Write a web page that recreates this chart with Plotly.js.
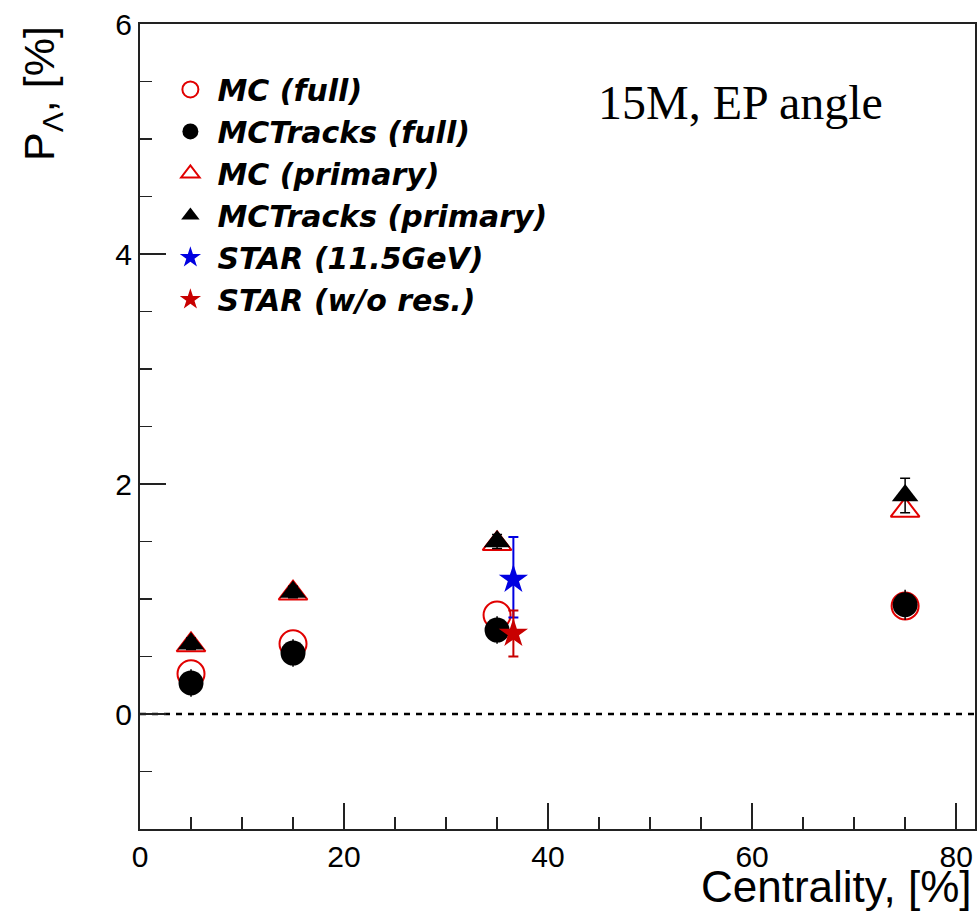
<!DOCTYPE html>
<html>
<head>
<meta charset="utf-8">
<script src="https://cdn.plot.ly/plotly-3.0.1.min.js"></script>
<style>
  html, body { margin: 0; padding: 0; background: #fff; }
  #chart { width: 977px; height: 916px; }
</style>
</head>
<body>
<div id="chart"></div>
<script>
// ---- data ----
const centrality = [5, 15, 35, 75];
const mcFull = [0.35, 0.61, 0.86, 0.94];
const mcTracksFull = [0.27, 0.53, 0.73, 0.95];
const mcTracksFullErr = [0.12, 0.12, 0.12, 0.13];
const mcPrimary = [0.60, 1.05, 1.48, 1.77];
const mcTracksPrimary = [0.61, 1.06, 1.50, 1.90];
const mcTracksPrimaryErr = [0.05, 0.05, 0.06, 0.15];

const starX = [36.6];
const star115 = [1.17];
const star115ErrPlus = [0.37];
const star115ErrMinus = [0.33];
const starNoRes = [0.70];
const starNoResErr = [0.20];

const seriesNames = ["MC (full)", "MCTracks (full)", "MC (primary)", "MCTracks (primary)", "STAR (11.5GeV)", "STAR (w/o res.)"];

const xTicks = [0, 20, 40, 60, 80];
const yTicks = [0, 2, 4, 6];
const xRange = [0, 81.85];
const yRange = [-1, 6];

const RED = "rgb(225,0,0)";
const DARKRED = "rgb(200,0,0)";
const BLUE = "rgb(0,0,225)";

const traces = [
  {
    x: centrality, y: mcFull, name: seriesNames[0], legendgroup: "g1", mode: "markers", type: "scatter",
    marker: { symbol: "circle-open", size: 27, color: RED, line: { width: 2, color: RED } }
  },
  {
    x: centrality, y: mcTracksFull, name: seriesNames[1], legendgroup: "g2", mode: "markers", type: "scatter",
    marker: { symbol: "circle", size: 25, color: "black" },
    error_y: { type: "data", array: mcTracksFullErr, color: "black", thickness: 1.5, width: 0 }
  },
  {
    x: centrality, y: mcPrimary, name: seriesNames[2], legendgroup: "g3", mode: "markers", type: "scatter",
    marker: { symbol: "triangle-up-open", size: 25, color: RED, line: { width: 2, color: RED } }
  },
  {
    x: centrality, y: mcTracksPrimary, name: seriesNames[3], legendgroup: "g4", mode: "markers", type: "scatter",
    marker: { symbol: "triangle-up", size: 23, color: "black" },
    error_y: { type: "data", array: mcTracksPrimaryErr, color: "black", thickness: 1.5, width: 5 }
  },
  {
    x: starX, y: star115, name: seriesNames[4], legendgroup: "g5", mode: "markers", type: "scatter",
    marker: { symbol: "star", size: 22, color: BLUE },
    error_y: { type: "data", symmetric: false, array: star115ErrPlus, arrayminus: star115ErrMinus, color: BLUE, thickness: 2, width: 5 }
  },
  {
    x: starX, y: starNoRes, name: seriesNames[5], legendgroup: "g6", mode: "markers", type: "scatter",
    marker: { symbol: "star", size: 22, color: DARKRED },
    error_y: { type: "data", array: starNoResErr, color: DARKRED, thickness: 2, width: 5 }
  }
];

const axisFont = { family: "Liberation Sans, Arial, sans-serif", size: 30, color: "black" };

const layout = {
  width: 977,
  height: 916,
  margin: { l: 140, r: 2, t: 24, b: 87, pad: 0 },
  paper_bgcolor: "white",
  plot_bgcolor: "white",
  showlegend: true,
  legend: {
    x: 0.028, y: 0.951, xanchor: "left", yanchor: "top",
    bgcolor: "rgba(0,0,0,0)",
    borderwidth: 0,
    itemsizing: "trace",
    itemwidth: 44,
    traceorder: "grouped",
    tracegroupgap: 0,
    font: { family: "DejaVu Sans, Liberation Sans, sans-serif", size: 30, weight: "bold", style: "italic", color: "black" }
  },
  xaxis: {
    range: xRange,
    tickvals: xTicks,
    ticktext: xTicks.map(String),
    ticks: "inside", ticklen: 26, tickwidth: 1.5, tickcolor: "#222",
    minor: { dtick: 5, tick0: 0, ticks: "inside", ticklen: 12, tickwidth: 1.5, tickcolor: "#222", showgrid: false },
    showline: true, linewidth: 2, linecolor: "#222", mirror: true,
    showgrid: false, zeroline: false,
    tickfont: axisFont
  },
  yaxis: {
    range: yRange,
    tickvals: yTicks,
    ticktext: yTicks.map(String),
    ticks: "inside", ticklen: 26, tickwidth: 1.5, tickcolor: "#222",
    minor: { dtick: 0.5, tick0: 0, ticks: "inside", ticklen: 12, tickwidth: 1.5, tickcolor: "#222", showgrid: false },
    showline: true, linewidth: 2, linecolor: "#222", mirror: true,
    showgrid: false, zeroline: false,
    tickfont: axisFont
  },
  shapes: [
    {
      type: "line", xref: "paper", yref: "y", x0: 0, x1: 1, y0: 0, y1: 0,
      line: { color: "black", width: 2.5, dash: "6px,6px" }, layer: "below"
    }
  ],
  annotations: [
    {
      text: "15M, EP angle", xref: "paper", yref: "paper", x: 0.546, y: 0.902,
      xanchor: "left", yanchor: "middle", showarrow: false,
      font: { family: "Liberation Serif, Times New Roman, serif", size: 48, color: "black" }
    },
    {
      text: "Centrality, [%]", xref: "paper", yref: "paper", x: 0.998, y: -0.072,
      xanchor: "right", yanchor: "middle", showarrow: false, borderpad: 0,
      font: { family: "Liberation Sans, Arial, sans-serif", size: 44, color: "black" }
    },
    {
      text: "P<sub>Λ</sub>, [%]", xref: "paper", yref: "paper", x: -0.118, y: 1.0,
      xanchor: "center", yanchor: "top", showarrow: false, textangle: -90,
      font: { family: "Liberation Sans, Arial, sans-serif", size: 43, color: "black" }
    }
  ]
};

Plotly.newPlot("chart", traces, layout, { displayModeBar: false, staticPlot: true });
</script>
</body>
</html>
